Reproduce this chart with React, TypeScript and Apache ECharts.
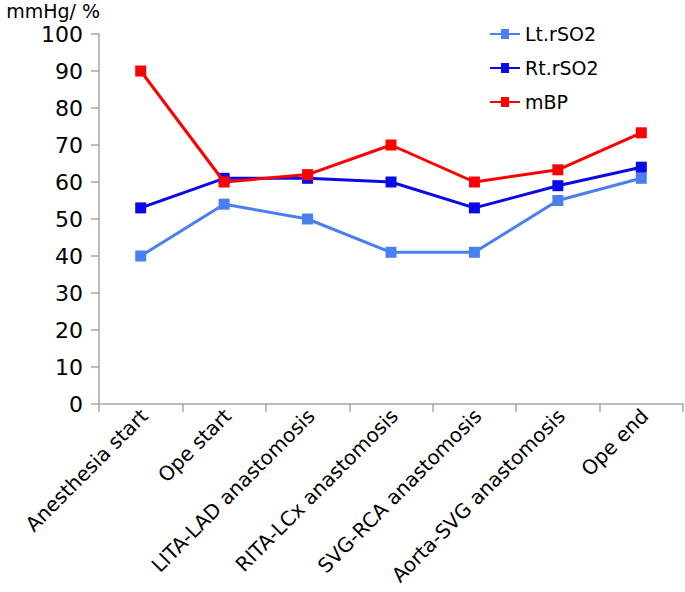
import React, { useEffect, useRef } from "react";
import * as echarts from "echarts";

const categories = [
  "Anesthesia start",
  "Ope start",
  "LITA-LAD anastomosis",
  "RITA-LCx anastomosis",
  "SVG-RCA anastomosis",
  "Aorta-SVG anastomosis",
  "Ope end",
];
const ltRSO2 = [40, 54, 50, 41, 41, 55, 61];
const rtRSO2 = [53, 61, 61, 60, 53, 59, 64];
const mBP = [90, 60, 62, 70, 60, 63.3, 73.3];

const FONT = "'DejaVu Sans', 'Open Sans', sans-serif";
const LEGEND_ICON = "path://M0,4H11V0H19V4H30V6H19V10H11V6H0Z";

export default function App() {
  const ref = useRef<HTMLDivElement>(null);
  useEffect(() => {
    if (!ref.current) return;
    const chart = echarts.init(ref.current, null, { renderer: "svg" });
    const mk = (name: string, data: number[], color: string, z: number) => ({
      name,
      type: "line",
      data,
      symbol: "rect",
      symbolSize: 11,
      lineStyle: { color, width: 3 },
      itemStyle: { color },
      z,
    });
    chart.setOption({
      animation: false,
      backgroundColor: "#fff",
      textStyle: { fontFamily: FONT },
      grid: { left: 99, right: 2, top: 34, bottom: 188, containLabel: false },
      legend: {
        orient: "vertical",
        left: 485,
        top: 19,
        itemWidth: 30,
        itemHeight: 10,
        itemGap: 14,
        textStyle: { fontSize: 19, lineHeight: 20, color: "#000", fontFamily: FONT },
        data: [
          { name: "Lt.rSO2", icon: LEGEND_ICON },
          { name: "Rt.rSO2", icon: LEGEND_ICON },
          { name: "mBP", icon: LEGEND_ICON },
        ],
      },
      xAxis: {
        type: "category",
        data: categories,
        boundaryGap: true,
        axisLine: { lineStyle: { color: "#a6a6a6", width: 1.5 } },
        axisTick: { show: true, length: 8, lineStyle: { color: "#a6a6a6", width: 1.5 } },
        axisLabel: {
          rotate: 45,
          interval: 0,
          fontSize: 20,
          color: "#000",
          fontFamily: FONT,
          margin: 12,
          padding: [0, -5, 0, 0],
        },
      },
      yAxis: {
        type: "value",
        min: 0,
        max: 100,
        interval: 10,
        name: "mmHg/ %",
        nameLocation: "end",
        nameGap: 14,
        nameTextStyle: {
          fontSize: 19,
          color: "#000",
          fontFamily: FONT,
          align: "right",
          verticalAlign: "bottom",
          padding: [0, -1, 0, 0],
        },
        splitLine: { show: false },
        axisLine: { show: true, lineStyle: { color: "#a6a6a6", width: 1.5 } },
        axisTick: { show: true, length: 8, lineStyle: { color: "#a6a6a6", width: 1.5 } },
        axisLabel: { fontSize: 22, color: "#000", fontFamily: FONT, margin: 16 },
      },
      series: [
        mk("Lt.rSO2", ltRSO2, "#4a7ff0", 1),
        mk("Rt.rSO2", rtRSO2, "#0a0ae8", 2),
        mk("mBP", mBP, "#ff0000", 3),
      ],
    });
    return () => chart.dispose();
  }, []);
  return <div ref={ref} style={{ width: 685, height: 592, position: "absolute", left: 0, top: 0 }} />;
}
